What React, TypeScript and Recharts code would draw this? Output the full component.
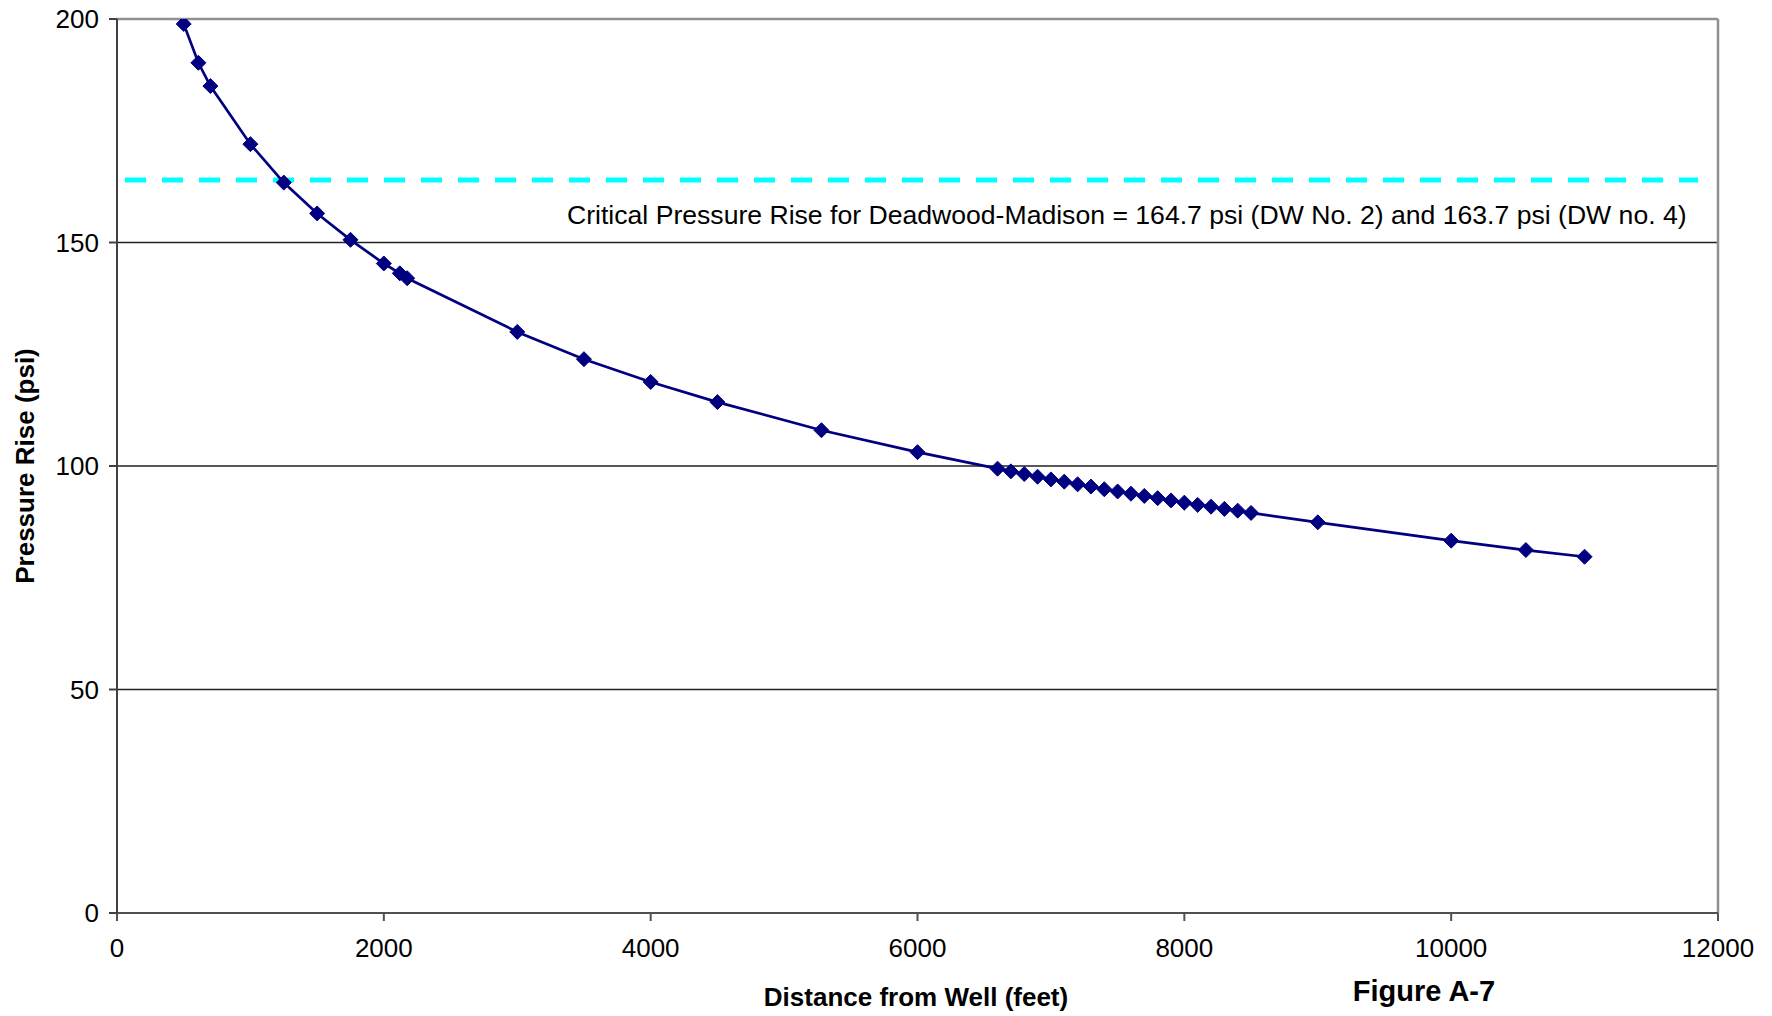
import React from 'react';
import { LineChart, Line, XAxis, YAxis, CartesianGrid, ReferenceLine } from 'recharts';

const distanceFt = [400, 500, 610, 700, 1000, 1250, 1500, 1750, 2000, 2120, 2175, 3000, 3500, 4000, 4500, 5280, 6000,
  6600, 6700, 6800, 6900, 7000, 7100, 7200, 7300, 7400, 7500, 7600, 7700, 7800, 7900, 8000, 8100, 8200, 8300, 8400, 8500,
  9000, 10000, 10560, 11000];
const pressurePsi = [210, 198.9, 190.2, 185.0, 172.0, 163.4, 156.5, 150.6, 145.3, 143.1, 142.0, 130.0, 123.9, 118.8, 114.3, 108.0, 103.1,
  99.4, 98.8, 98.2, 97.6, 97.0, 96.5, 95.9, 95.4, 94.8, 94.3, 93.8, 93.3, 92.8, 92.3, 91.8, 91.3, 90.9, 90.4, 90.0, 89.5,
  87.4, 83.3, 81.2, 79.7];
const criticalX = [60, 11850];
const criticalPsi = 164.0;
const xTicks = [0, 2000, 4000, 6000, 8000, 10000, 12000];
const yTicks = [0, 50, 100, 150, 200];
const gridValues = [50, 100, 150];

const curveData = distanceFt.map((x, i) => ({ x, y: pressurePsi[i] }));
const criticalData = criticalX.map((x) => ({ x, y: criticalPsi }));

const FONT = '"Liberation Sans", Arial, Helvetica, sans-serif';

const Diamond = (props: any) => {
  const { cx, cy, index } = props;
  if (cx == null || cy == null) return <g key={index} />;
  const r = 7.5;
  return (
    <path
      key={index}
      d={`M${cx},${cy - r} L${cx + r},${cy} L${cx},${cy + r} L${cx - r},${cy} Z`}
      fill="#000080"
      stroke="#000080"
      strokeWidth={1}
    />
  );
};

export default function App() {
  return (
    <div style={{ position: 'absolute', left: 0, top: 0, width: 1772, height: 1016, background: '#fff', fontFamily: FONT }}>
      <LineChart width={1772} height={1016} margin={{ top: 19, right: 54, bottom: 0, left: 0 }}>
        <CartesianGrid horizontal vertical={false} horizontalValues={gridValues} stroke="#222" strokeWidth={1.5} />
        <XAxis
          type="number"
          dataKey="x"
          domain={[0, 12000]}
          ticks={xTicks}
          height={103}
          tickSize={8}
          tickMargin={18}
          stroke="#505050"
          strokeWidth={2}
          tick={{ fill: '#000', fontSize: 26, fontFamily: FONT }}
          allowDataOverflow
        />
        <YAxis
          type="number"
          dataKey="y"
          domain={[0, 200]}
          ticks={yTicks}
          width={117}
          tickSize={8}
          tickMargin={10}
          stroke="#404040"
          strokeWidth={2}
          tick={{ fill: '#000', fontSize: 26, fontFamily: FONT }}
          allowDataOverflow
        />
        <ReferenceLine y={200} stroke="#909090" strokeWidth={2.5} />
        <ReferenceLine x={12000} stroke="#909090" strokeWidth={2.5} />
        <Line
          data={criticalData}
          dataKey="y"
          type="linear"
          stroke="#00FFFF"
          strokeWidth={5}
          strokeDasharray="21 16"
          dot={false}
          activeDot={false}
          isAnimationActive={false}
        />
        <Line
          data={curveData}
          dataKey="y"
          type="linear"
          stroke="#000080"
          strokeWidth={2.7}
          dot={Diamond}
          activeDot={false}
          isAnimationActive={false}
        />
      </LineChart>
      <div style={{ position: 'absolute', left: 567, top: 199, fontSize: 26.6, whiteSpace: 'nowrap', color: '#000', lineHeight: '32px' }}>
        Critical Pressure Rise for Deadwood-Madison = 164.7 psi (DW No. 2) and 163.7 psi (DW no. 4)
      </div>
      <div style={{ position: 'absolute', left: 916, top: 997, transform: 'translate(-50%, -50%)', fontSize: 26, fontWeight: 'bold', whiteSpace: 'nowrap', color: '#000' }}>
        Distance from Well (feet)
      </div>
      <div style={{ position: 'absolute', left: 1424, top: 991, transform: 'translate(-50%, -50%)', fontSize: 29, fontWeight: 'bold', whiteSpace: 'nowrap', color: '#000' }}>
        Figure A-7
      </div>
      <div style={{ position: 'absolute', left: 25, top: 466, transform: 'translate(-50%, -50%) rotate(-90deg)', fontSize: 26, fontWeight: 'bold', whiteSpace: 'nowrap', color: '#000' }}>
        Pressure Rise (psi)
      </div>
    </div>
  );
}
